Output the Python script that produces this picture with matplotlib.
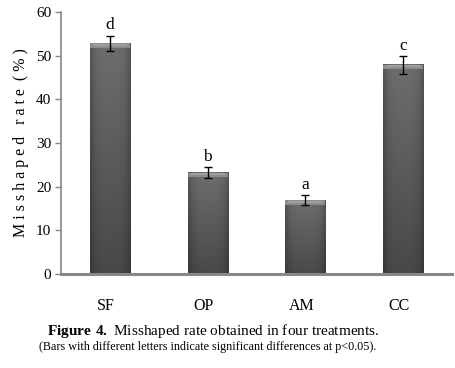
import matplotlib
matplotlib.use("Agg")
import matplotlib.pyplot as plt
import numpy as np

# values
treatments = ['SF', 'OP', 'AM', 'CC']
misshaped_rate = [52.8, 23.2, 16.9, 47.9]
std_err = [1.8, 1.2, 1.1, 2.0]
letters = ['d', 'b', 'a', 'c']
y_ticks = [0, 10, 20, 30, 40, 50, 60]

plt.rcParams['font.family'] = ['Liberation Serif', 'DejaVu Serif']
plt.rcParams['mathtext.fontset'] = 'custom'
plt.rcParams['mathtext.rm'] = 'Liberation Serif'
plt.rcParams['mathtext.bf'] = 'Liberation Serif:bold'

fig = plt.figure(figsize=(4.56, 3.68), dpi=100)
ax = fig.add_axes([0.134, 0.2554, 0.857, 0.712])

x = np.arange(len(treatments))
width = 0.41

# vertical gradient dark at bottom, lighter near the top, bevel band at top
grad = np.linspace(0.28, 0.43, 256).reshape(-1, 1)
side = 1 - 0.25 * np.abs(np.linspace(-1, 1, 64)) ** 4
img = grad * side[None, :]
for xi, val in zip(x, misshaped_rate):
    x0, x1 = xi - width / 2, xi + width / 2
    ax.imshow(img, cmap='gray', vmin=0, vmax=1, origin='lower',
              extent=[x0, x1, -0.8, val], aspect='auto', zorder=2)
    ax.fill_between([x0, x1], val - 1.0, val, color='#8c8c8c', zorder=3, lw=0)
    ax.fill_between([x0 + 0.03, x1 - 0.03], val - 0.6, val - 0.1, color='#a0a0a0', zorder=3, lw=0)

ax.errorbar(x, misshaped_rate, yerr=std_err, fmt='none', ecolor='black',
            elinewidth=1, capsize=3, capthick=1, zorder=4)

for xi, val, err, let in zip(x, misshaped_rate, std_err, letters):
    ax.text(xi, val + err + 0.5, let, ha='center', va='bottom', fontsize=12.5)

ax.set_xlim(-0.5, 3.5)
ax.set_ylim(0, 60)
ax.set_yticks(y_ticks)
ax.set_yticklabels([str(t) for t in y_ticks], fontsize=11)
ax.set_xticks(x - 0.04)
ax.set_xticklabels(treatments, fontsize=11.5)
ax.tick_params(axis='x', length=0, pad=17)
ax.tick_params(axis='y', length=4, width=1, color='#888888', pad=3)

for s in ['top', 'right']:
    ax.spines[s].set_visible(False)
ax.spines['left'].set_color('#888888')
ax.spines['left'].set_linewidth(1.2)
ax.spines['bottom'].set_color('#888888')
ax.spines['bottom'].set_linewidth(2.2)
ax.spines['bottom'].set_zorder(5)

ax.set_ylabel('M i s s h a p e d   r a t e  ( % )', fontsize=11.5, labelpad=5)

fig.text(0.468, 0.101, r'$\mathbf{Figure\ 4.}$ Misshaped rate obtained in four treatments.',
         fontsize=11.0, ha='center', va='center')
fig.text(0.456, 0.058, '(Bars with different letters indicate significant differences at p<0.05).',
         fontsize=8.7, ha='center', va='center')

fig.savefig('out.png', dpi=100)
